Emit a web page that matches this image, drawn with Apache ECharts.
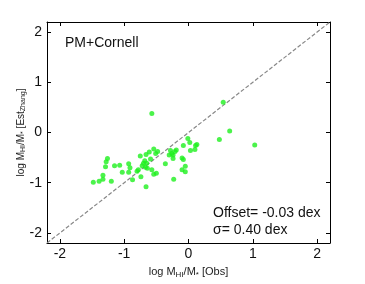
<!DOCTYPE html>
<html><head><meta charset="utf-8">
<script src="https://cdn.jsdelivr.net/npm/echarts@6/dist/echarts.min.js"></script>
<style>html,body{margin:0;padding:0;background:#fff}#c{width:365px;height:284px}</style>
</head><body><div id="c"></div>
<script>
const obsX = [-1.48,-1.39,-1.33,-1.33,-1.29,-1.28,-1.26,-1.20,-1.15,-1.07,-1.03,-0.93,-0.93,-0.91,-0.87,-0.80,-0.78,-0.75,-0.74,-0.72,-0.70,-0.68,-0.66,-0.67,-0.66,-0.65,-0.64,-0.61,-0.59,-0.57,-0.57,-0.54,-0.54,-0.50,-0.51,-0.48,-0.36,-0.30,-0.28,-0.26,-0.24,-0.24,-0.23,-0.21,-0.19,-0.10,-0.10,-0.08,-0.08,-0.05,-0.05,-0.01,0.02,0.03,0.10,0.11,0.13,0.48,0.54,0.64,1.03];
const estY = [-0.99,-0.97,-0.93,-0.85,-0.68,-0.58,-0.52,-0.97,-0.66,-0.65,-0.79,-0.79,-0.62,-0.70,-0.94,-0.77,-0.74,-0.47,-0.88,-0.66,-0.61,-0.56,-0.44,-0.69,-1.08,-0.61,-0.71,-0.39,-0.53,-0.74,0.38,-0.83,-0.33,-0.81,-0.42,-0.38,-0.62,-0.45,-0.36,-0.42,-0.52,-0.45,-0.93,-0.38,-0.35,-0.51,-0.74,-0.26,-0.54,-0.67,-0.78,-0.12,-0.20,-0.36,-0.34,-0.26,-0.24,-0.14,0.60,0.03,-0.25];
const oneToOne = [[-2.2,-2.2],[2.2,2.2]];
const tickVals = [-2,-1,0,1,2];
const titleText = 'PM+Cornell';
const statLines = ['Offset= -0.03 dex', 'σ= 0.40 dex'];

const chart = echarts.init(document.getElementById('c'), null, {renderer:'canvas'});
const F = 'Liberation Sans, Arial, Helvetica, sans-serif';
const richX = {
  n:{fontFamily:F,fontSize:11,color:'#222'},
  s:{fontFamily:F,fontSize:8,color:'#222',verticalAlign:'bottom',padding:[6,0,0,0]}
};
const richY = {
  n:{fontFamily:F,fontSize:10,color:'#222'},
  s:{fontFamily:F,fontSize:7,color:'#222',verticalAlign:'bottom',padding:[5,0,0,0]}
};
function baseAxis(pos, show){
  return {
    type:'value', min:-2.2, max:2.2, position:pos,
    splitLine:{show:false},
    axisLine:{show:true, onZero:false, lineStyle:{color:'#000',width:1}},
    axisTick:{show:true, inside:true, length:4, lineStyle:{color:'#000'},
      customValues: tickVals},
    axisLabel:{show:show, fontFamily:F, fontSize:14, color:'#111',
      customValues: tickVals,
      formatter: v => (Math.abs(v-Math.round(v))<1e-6 ? String(Math.round(v)) : '')}
  };
}
const x0 = baseAxis('bottom', true);
x0.axisLabel.margin = 4;
x0.name = '{n|log M}{s|HI}{n|/M}{s|*}{n| [Obs]}';
x0.nameLocation = 'middle'; x0.nameGap = 22;
x0.nameTextStyle = {rich: richX};
const x1 = baseAxis('top', false);
const y0 = baseAxis('left', true);
y0.axisLabel.margin = 5;
y0.name = '{n|log M}{s|HI}{n|/M}{s|*}{n| [Est}{s|Zhang}{n|]}';
y0.nameLocation = 'middle'; y0.nameGap = 20; y0.nameRotate = 90;
y0.nameMoveOverlap = false;
y0.nameTextStyle = {rich: richY};
const y1 = baseAxis('right', false);

chart.setOption({
  animation:false,
  backgroundColor:'#fff',
  grid:{left:47, right:35, top:22, bottom:33},
  xAxis:[x0, x1],
  yAxis:[y0, y1],
  series:[
    {type:'line', data:oneToOne, xAxisIndex:0, yAxisIndex:0, symbol:'none',
     lineStyle:{color:'#888', width:1.2, type:[4,2]}, z:1},
    {type:'scatter', data: obsX.map((x,i)=>[x, estY[i]]), xAxisIndex:0, yAxisIndex:0,
     symbolSize:5, itemStyle:{color:'#1ef01e'}, z:2}
  ],
  graphic:[
    {type:'text', left:65, top:36, style:{text:titleText, font:'14px '+F, fill:'#111'}},
    {type:'text', left:213, top:206, style:{text:statLines[0], font:'14px '+F, fill:'#111'}},
    {type:'text', left:213, top:223, style:{text:statLines[1], font:'14px '+F, fill:'#111'}}
  ]
});
</script></body></html>
